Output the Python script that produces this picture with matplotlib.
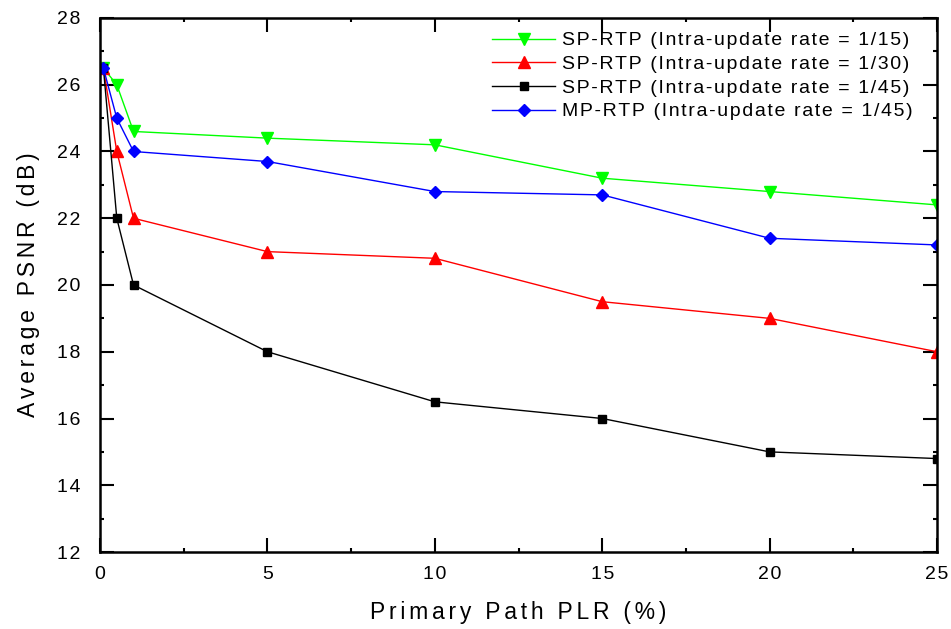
import matplotlib
matplotlib.use("Agg")
import matplotlib.pyplot as plt
from matplotlib.ticker import MultipleLocator, FuncFormatter

plt.rcParams['font.family'] = ['Liberation Sans', 'DejaVu Sans']

plr = [0.1, 0.5, 1, 5, 10, 15, 20, 25]
sp_15 = [26.5, 26.0, 24.6, 24.4, 24.2, 23.2, 22.8, 22.4]
sp_30 = [26.5, 24.0, 22.0, 21.0, 20.8, 19.5, 19.0, 18.0]
sp_45 = [26.5, 22.0, 20.0, 18.0, 16.5, 16.0, 15.0, 14.8]
mp_45 = [26.5, 25.0, 24.0, 23.7, 22.8, 22.7, 21.4, 21.2]

labels = [
    "SP-RTP (Intra-update rate = 1/15)",
    "SP-RTP (Intra-update rate = 1/30)",
    "SP-RTP (Intra-update rate = 1/45)",
    "MP-RTP (Intra-update rate = 1/45)",
]
x_label = "Primary Path PLR (%)"
y_label = "Average PSNR (dB)"

HAIR = "\u200a"


def tracked(s, n=1):
    """Widen letter spacing by putting n hair spaces between characters."""
    return (HAIR * n).join(s)


fig = plt.figure(figsize=(9.51, 6.29), dpi=100)
ax = fig.add_axes([0.1052, 0.1224, 0.8801, 0.849])

ax.plot(plr, sp_15, color="#00ff00", lw=1.0, marker="v", ms=9, label=tracked(labels[0]))
ax.plot(plr, sp_30, color="#ff0000", lw=1.0, marker="^", ms=9, label=tracked(labels[1]))
ax.plot(plr, sp_45, color="#000000", lw=1.0, marker="s", ms=6, label=tracked(labels[2]))
ax.plot(plr, mp_45, color="#0000ff", lw=1.0, marker="D", ms=6.5, label=tracked(labels[3]))

ax.set_xlim(0, 25)
ax.set_ylim(12, 28)
ax.xaxis.set_major_locator(MultipleLocator(5))
ax.xaxis.set_minor_locator(MultipleLocator(2.5))
ax.yaxis.set_major_locator(MultipleLocator(2))
ax.yaxis.set_minor_locator(MultipleLocator(1))
tick_fmt = FuncFormatter(lambda v, pos: tracked(f"{v:g}", 1))
ax.xaxis.set_major_formatter(tick_fmt)
ax.yaxis.set_major_formatter(tick_fmt)
ax.tick_params(which="both", direction="in", top=True, right=True, width=1.5)
ax.tick_params(which="major", length=10, labelsize=14)
ax.tick_params(which="minor", length=3)
ax.tick_params(axis="x", which="major", pad=10)
ax.tick_params(axis="y", which="major", pad=14)
for s in ax.spines.values():
    s.set_linewidth(1.8)

ax.set_xlabel(tracked(x_label, 2), fontsize=16.5, labelpad=13)
ax.set_ylabel(tracked(y_label, 2), fontsize=16.5, labelpad=12)

leg = ax.legend(loc="upper left", frameon=False, fontsize=14, handlelength=3.27,
                handletextpad=0.32, labelspacing=0.31, borderaxespad=0.0,
                borderpad=0.0, bbox_to_anchor=(0.468, 0.974))

fig.savefig("out.png", dpi=100)
